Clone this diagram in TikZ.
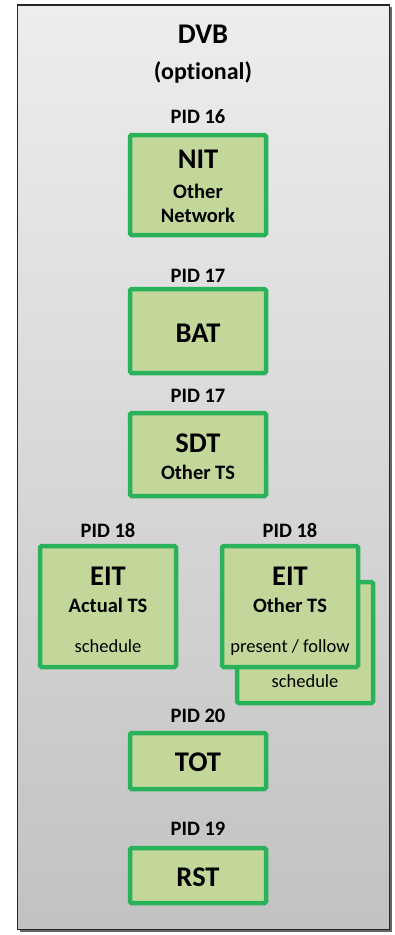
\documentclass[tikz,border=0pt]{standalone}
\usepackage{fontspec}
\setmainfont{Carlito}[Ligatures=NoCommon]
\usetikzlibrary{positioning}
\definecolor{tblgreen}{HTML}{2AB25A}
\definecolor{tblfill}{HTML}{C4D79B}
\tikzset{
  tbl/.style={draw=tblgreen, fill=tblfill, line width=4.5pt, rounded corners=1.5pt,
    minimum width=136pt, minimum height=#1, inner sep=0pt},
  pid/.style={anchor=base, font=\fontsize{20.5}{20.5}\selectfont\bfseries},
  big/.style={anchor=base, font=\fontsize{28.5}{28.5}\selectfont\bfseries},
  sub/.style={anchor=base, font=\fontsize{20.5}{20.5}\selectfont\bfseries},
  small/.style={anchor=base, font=\fontsize{18.5}{18.5}\selectfont}
}

\begin{document}
\begin{tikzpicture}[x=1pt,y=-1pt]
  \useasboundingbox (0,0) rectangle (394,935);
  % frame
  \fill[black!60] (19.5,7) rectangle (391.5,931.5);
  \draw[line width=1.6pt, draw=black!85, top color=black!7, bottom color=black!24]
    (17.5,5) rectangle (389.5,929.5);
  \node[big] (dvb) at (203,43) {DVB};
  \node[anchor=base, font=\fontsize{24}{24}\selectfont\bfseries] (opt) at (203,79) {(optional)};

  % NIT
  \node[pid] (pnit) at (198,123) {PID 16};
  \node[tbl=100pt] (nit) at (198,185) {};
  \node[big] (tnit) at (198,168) {NIT};
  \node[sub] (snit) at (198,198) {Other};
  \node[sub] (snit2) at (198,222) {Network};

  % BAT
  \node[pid] (pbat) at (198,282) {PID 17};
  \node[tbl=84pt] (bat) at (198,331) {};
  \node[big] (tbat) at (198,342) {BAT};

  % SDT
  \node[pid] (psdt) at (198,402) {PID 17};
  \node[tbl=83pt] (sdt) at (198,454.5) {};
  \node[big] (tsdt) at (198,452) {SDT};
  \node[sub] (ssdt) at (198,479) {Other TS};

  % EIT actual
  \node[pid] (peita) at (108,537) {PID 18};
  \node[tbl=121pt] (eita) at (108,606.5) {};
  \node[big] (teita) at (108,585) {EIT};
  \node[sub] (seita) at (108,612) {Actual TS};
  \node[small] (keita) at (108,652) {schedule};

  % EIT other
  \node[pid] (peito) at (290,537) {PID 18};
  \node[tbl=121pt] (eitb) at (305,642.5) {};
  \node[small] (keitb) at (305,687) {schedule};
  \node[tbl=121pt] (eito) at (290,606.5) {};
  \node[big] (teito) at (290,585) {EIT};
  \node[sub] (seito) at (290,612) {Other TS};
  \node[small] (keito) at (290,652) {present / follow};

  % TOT
  \node[pid] (ptot) at (198,722) {PID 20};
  \node[tbl=56pt] (tot) at (198,761) {};
  \node[big] (ttot) at (198,771) {TOT};

  % RST
  \node[pid] (prst) at (198,835) {PID 19};
  \node[tbl=55pt] (rst) at (198,875.5) {};
  \node[big] (trst) at (198,886) {RST};
\end{tikzpicture}
\end{document}
